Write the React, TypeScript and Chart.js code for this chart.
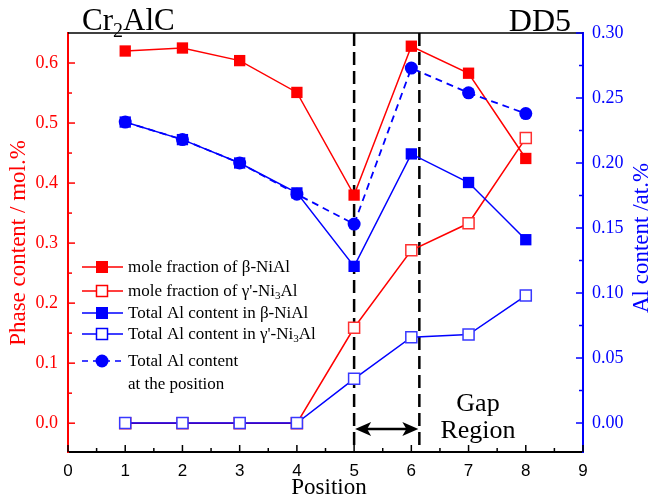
import React, { useEffect, useRef } from "react";
import { Chart, registerables } from "chart.js";

Chart.register(...registerables);

// ---------- data ----------
const POSITIONS = [1, 2, 3, 4, 5, 6, 7, 8];
const MOLE_BETA = [0.62, 0.625, 0.604, 0.551, 0.38, 0.628, 0.583, 0.441];
const MOLE_GAMMA = [0, 0, 0, 0, 0.159, 0.288, 0.333, 0.475];
const AL_BETA = [0.2315, 0.218, 0.2, 0.177, 0.1205, 0.207, 0.185, 0.141];
const AL_GAMMA = [0, 0, 0, 0, 0.034, 0.066, 0.068, 0.098];
const AL_TOTAL = [0.2315, 0.218, 0.2, 0.176, 0.153, 0.273, 0.254, 0.238];

const X_TICKS = [0, 1, 2, 3, 4, 5, 6, 7, 8, 9];
const LEFT_TICKS = [0, 0.1, 0.2, 0.3, 0.4, 0.5, 0.6];
const RIGHT_TICKS = [0, 0.05, 0.1, 0.15, 0.2, 0.25, 0.3];
const GAP_LINES = [5, 6.14];

const RED = "#ff0000";
const BLUE = "#0000ff";
const SERIF = "'Liberation Serif', 'Times New Roman', serif";
const SANS = "'Liberation Sans', Arial, sans-serif";

const pts = (ys: number[]) => POSITIONS.map((x, i) => ({ x, y: ys[i] }));

function drawSubText(ctx: CanvasRenderingContext2D, parts: [string, boolean][], x: number, y: number, size: number) {
  let cx = x;
  for (const [t, sub] of parts) {
    ctx.font = `${sub ? Math.round(size * 0.65) : size}px ${SERIF}`;
    ctx.fillText(t, cx, sub ? y + size * 0.22 : y);
    cx += ctx.measureText(t).width;
  }
}

const overlay = {
  id: "overlay",
  beforeDatasetsDraw(chart: any) {
    const { ctx, chartArea, scales } = chart;
    ctx.save();
    ctx.strokeStyle = "#000";
    ctx.lineWidth = 2.5;
    ctx.setLineDash([13, 6]);
    for (const v of GAP_LINES) {
      const px = scales.x.getPixelForValue(v);
      ctx.beginPath();
      ctx.moveTo(px, chartArea.top);
      ctx.lineTo(px, chartArea.bottom);
      ctx.stroke();
    }
    ctx.restore();
  },
  afterDraw(chart: any) {
    const { ctx, chartArea, scales } = chart;
    const { left, right, top, bottom } = chartArea;
    ctx.save();
    // top border
    ctx.strokeStyle = "#000";
    ctx.lineWidth = 1.5;
    ctx.beginPath();
    ctx.moveTo(left, top);
    ctx.lineTo(right, top);
    ctx.stroke();
    // inward ticks x
    ctx.lineWidth = 1.5;
    ctx.strokeStyle = "#000";
    for (let v = 0; v <= 9.001; v += 0.5) {
      const px = scales.x.getPixelForValue(v);
      const len = Math.abs(v - Math.round(v)) < 1e-6 ? 7 : 4;
      ctx.beginPath();
      ctx.moveTo(px, bottom);
      ctx.lineTo(px, bottom - len);
      ctx.stroke();
    }
    // left ticks
    ctx.strokeStyle = RED;
    for (let v = 0; v <= 0.6001; v += 0.05) {
      const py = scales.y.getPixelForValue(v);
      const major = Math.abs(v * 10 - Math.round(v * 10)) < 1e-6;
      ctx.beginPath();
      ctx.moveTo(left, py);
      ctx.lineTo(left + (major ? 7 : 4), py);
      ctx.stroke();
    }
    // right ticks
    ctx.strokeStyle = BLUE;
    for (let v = 0; v <= 0.3001; v += 0.025) {
      const py = scales.y1.getPixelForValue(v);
      const major = Math.abs(v * 20 - Math.round(v * 20)) < 1e-6;
      ctx.beginPath();
      ctx.moveTo(right, py);
      ctx.lineTo(right - (major ? 7 : 4), py);
      ctx.stroke();
    }

    // double arrow
    const x1 = scales.x.getPixelForValue(GAP_LINES[0]);
    const x2 = scales.x.getPixelForValue(GAP_LINES[1]);
    const ay = 429;
    ctx.strokeStyle = "#000";
    ctx.fillStyle = "#000";
    ctx.lineWidth = 2.5;
    ctx.beginPath();
    ctx.moveTo(x1 + 8, ay);
    ctx.lineTo(x2 - 8, ay);
    ctx.stroke();
    ctx.beginPath();
    ctx.moveTo(x1 + 1, ay);
    ctx.lineTo(x1 + 17, ay - 7);
    ctx.lineTo(x1 + 13, ay);
    ctx.lineTo(x1 + 17, ay + 7);
    ctx.closePath();
    ctx.fill();
    ctx.beginPath();
    ctx.moveTo(x2 - 1, ay);
    ctx.lineTo(x2 - 17, ay - 7);
    ctx.lineTo(x2 - 13, ay);
    ctx.lineTo(x2 - 17, ay + 7);
    ctx.closePath();
    ctx.fill();

    // texts
    ctx.fillStyle = "#000";
    ctx.textBaseline = "alphabetic";
    ctx.textAlign = "center";
    ctx.font = `26px ${SERIF}`;
    ctx.fillText("Gap", 478, 411);
    ctx.fillText("Region", 478, 438);
    ctx.font = `23px ${SERIF}`;
    ctx.fillText("Position", 329, 494);
    ctx.textAlign = "left";
    drawSubText(ctx, [["Cr", false], ["2", true], ["AlC", false]], 82, 30, 31);
    ctx.textAlign = "right";
    ctx.font = `32px ${SERIF}`;
    ctx.fillText("DD5", 571, 31);

    // axis titles
    ctx.textAlign = "center";
    ctx.textBaseline = "middle";
    ctx.font = `23px ${SERIF}`;
    ctx.save();
    ctx.translate(19, 243);
    ctx.rotate(-Math.PI / 2);
    ctx.fillStyle = RED;
    ctx.fillText("Phase content / mol.%", 0, 0);
    ctx.restore();
    ctx.save();
    ctx.translate(642, 238);
    ctx.rotate(-Math.PI / 2);
    ctx.fillStyle = BLUE;
    ctx.fillText("Al content /at.%", 0, 0);
    ctx.restore();

    // legend
    const rows: { y: number; color: string; fill: boolean; shape: string; dash: boolean; parts: [string, boolean][] }[] = [
      { y: 267, color: RED, fill: true, shape: "sq", dash: false, parts: [["mole fraction of β-NiAl", false]] },
      { y: 291, color: RED, fill: false, shape: "sq", dash: false, parts: [["mole fraction of γ'-Ni", false], ["3", true], ["Al", false]] },
      { y: 313, color: BLUE, fill: true, shape: "sq", dash: false, parts: [["Total Al content in β-NiAl", false]] },
      { y: 334, color: BLUE, fill: false, shape: "sq", dash: false, parts: [["Total Al content in γ'-Ni", false], ["3", true], ["Al", false]] },
      { y: 361, color: BLUE, fill: true, shape: "circle", dash: true, parts: [["Total Al content", false]] },
    ];
    const lx0 = 82, lx1 = 123, mx = 102;
    for (const r of rows) {
      ctx.strokeStyle = r.color;
      ctx.fillStyle = r.color;
      ctx.lineWidth = 1.5;
      if (r.dash) {
        ctx.setLineDash([6, 5]);
        ctx.beginPath();
        ctx.moveTo(lx0, r.y);
        ctx.lineTo(lx1, r.y);
        ctx.stroke();
        ctx.setLineDash([]);
      } else {
        ctx.beginPath();
        ctx.moveTo(lx0, r.y);
        ctx.lineTo(mx - 6, r.y);
        ctx.moveTo(mx + 6, r.y);
        ctx.lineTo(lx1, r.y);
        ctx.stroke();
      }
      if (r.shape === "circle") {
        ctx.beginPath();
        ctx.arc(mx, r.y, 6.5, 0, Math.PI * 2);
        ctx.fill();
      } else if (r.fill) {
        ctx.fillRect(mx - 6, r.y - 6, 12, 12);
      } else {
        ctx.fillStyle = "#fff";
        ctx.fillRect(mx - 5.5, r.y - 5.5, 11, 11);
        ctx.strokeRect(mx - 5.5, r.y - 5.5, 11, 11);
      }
      ctx.fillStyle = "#000";
      ctx.textAlign = "left";
      ctx.textBaseline = "middle";
      drawSubText(ctx, r.parts, 128, r.y + 1, 17);
    }
    ctx.fillStyle = "#000";
    ctx.font = `17px ${SERIF}`;
    ctx.fillText("at the position", 128, 385);
    ctx.restore();
  },
};

export default function App() {
  const ref = useRef<HTMLCanvasElement>(null);
  useEffect(() => {
    if (!ref.current) return;
    const chart = new Chart(ref.current, {
      type: "line",
      data: {
        datasets: [
          {
            label: "Total Al content at the position",
            data: pts(AL_TOTAL),
            yAxisID: "y1",
            borderColor: BLUE,
            backgroundColor: BLUE,
            borderWidth: 1.8,
            borderDash: [7, 5],
            pointStyle: "circle",
            pointRadius: 6.5,
            pointBorderWidth: 0,
            tension: 0,
          },
          {
            label: "Total Al content in γ'-Ni3Al",
            data: pts(AL_GAMMA),
            yAxisID: "y1",
            borderColor: BLUE,
            backgroundColor: "#ffffff",
            pointBorderColor: "#3838ff",
            borderWidth: 1.5,
            pointStyle: "rect",
            pointRadius: 7.8,
            pointBorderWidth: 1.5,
            tension: 0,
          },
          {
            label: "Total Al content in β-NiAl",
            data: pts(AL_BETA),
            yAxisID: "y1",
            borderColor: BLUE,
            backgroundColor: BLUE,
            borderWidth: 1.5,
            pointStyle: "rect",
            pointRadius: 8,
            pointBorderWidth: 0,
            tension: 0,
          },
          {
            label: "mole fraction of γ'-Ni3Al",
            data: pts(MOLE_GAMMA),
            yAxisID: "y",
            borderColor: RED,
            backgroundColor: "#ffffff",
            pointBorderColor: "#ff3030",
            borderWidth: 1.5,
            pointStyle: "rect",
            pointRadius: 7.8,
            pointBorderWidth: 1.5,
            tension: 0,
          },
          {
            label: "mole fraction of β-NiAl",
            data: pts(MOLE_BETA),
            yAxisID: "y",
            borderColor: RED,
            backgroundColor: RED,
            borderWidth: 1.5,
            pointStyle: "rect",
            pointRadius: 8,
            pointBorderWidth: 0,
            tension: 0,
          },
        ],
      },
      options: {
        responsive: false,
        animation: false,
        events: [],
        layout: { padding: { top: 33, left: 0, right: 0, bottom: 0 } },
        plugins: { legend: { display: false }, tooltip: { enabled: false }, title: { display: false } },
        scales: {
          x: {
            type: "linear",
            position: "bottom",
            min: 0,
            max: 9,
            afterBuildTicks: (s: any) => { s.ticks = X_TICKS.map((v) => ({ value: v })); },
            afterFit: (s: any) => { s.height = 48; },
            ticks: { color: "#000", font: { family: SANS, size: 17 }, padding: 9, maxRotation: 0, autoSkip: false, callback: (v: any) => String(v) },
            grid: { display: false, drawTicks: false },
            border: { display: true, color: "#000", width: 2 },
          },
          y: {
            type: "linear",
            position: "left",
            min: -0.048,
            max: 0.65,
            afterBuildTicks: (s: any) => { s.ticks = LEFT_TICKS.map((v) => ({ value: v })); },
            afterFit: (s: any) => { s.width = 68; },
            ticks: { color: RED, font: { family: SERIF, size: 18 }, padding: 10, autoSkip: false, callback: (v: any) => Number(v).toFixed(1) },
            grid: { display: false, drawTicks: false },
            border: { display: true, color: RED, width: 2 },
          },
          y1: {
            type: "linear",
            position: "right",
            min: -0.0223,
            max: 0.3,
            afterBuildTicks: (s: any) => { s.ticks = RIGHT_TICKS.map((v) => ({ value: v })); },
            afterFit: (s: any) => { s.width = 69; },
            ticks: { color: BLUE, font: { family: SERIF, size: 18 }, padding: 9, autoSkip: false, callback: (v: any) => Number(v).toFixed(2) },
            grid: { display: false, drawTicks: false },
            border: { display: true, color: BLUE, width: 2 },
          },
        },
      },
      plugins: [overlay],
    } as any);
    return () => chart.destroy();
  }, []);
  return (
    <div style={{ position: "fixed", left: 0, top: 0, width: 652, height: 500, background: "#fff" }}>
      <canvas ref={ref} width={652} height={500} />
    </div>
  );
}
